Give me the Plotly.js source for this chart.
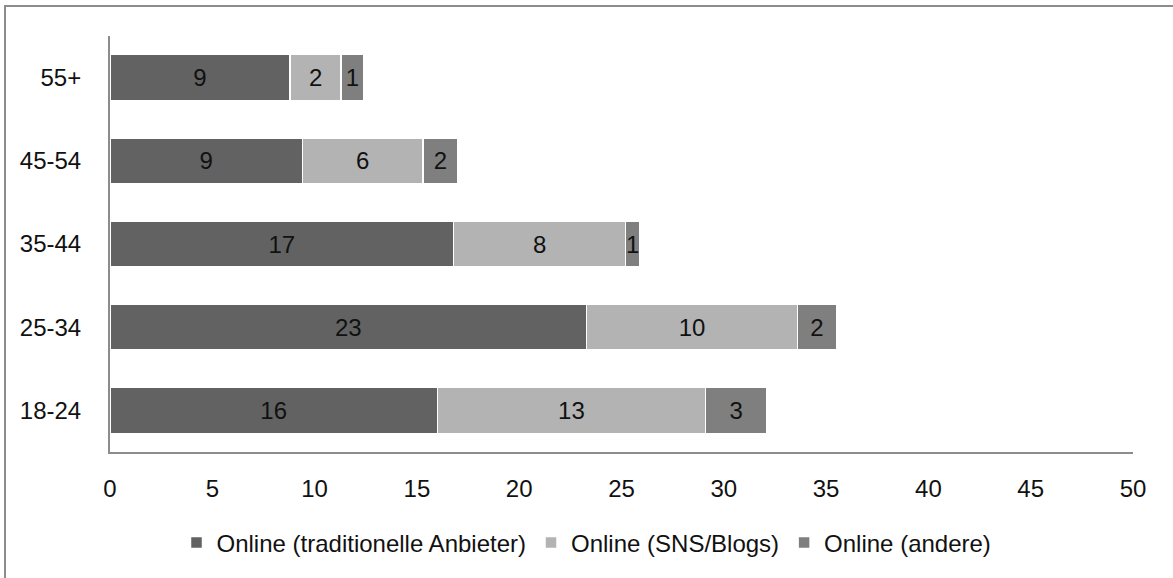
<!DOCTYPE html>
<html>
<head>
<meta charset="utf-8">
<script src="https://cdn.plot.ly/plotly-3.0.1.min.js"></script>
<style>
  html, body { margin: 0; padding: 0; background: #ffffff; overflow: hidden; }
  #frame { position: absolute; left: 4px; top: 5px; width: 1300px; height: 700px;
           border-left: 2px solid #8c8c8c; border-top: 2px solid #8c8c8c; }
  #chart { position: absolute; left: 0; top: 0; width: 1173px; height: 578px; }
</style>
</head>
<body>
<div id="frame"></div>
<div id="chart"></div>
<script>
// Age groups (bottom to top)
const categories = ['18-24', '25-34', '35-44', '45-54', '55+'];

// Series values
const traditionell = [16.0, 23.3, 16.8, 9.4, 8.8];
const snsBlogs     = [13.1, 10.3, 8.4, 5.9, 2.5];
const andere       = [3.0, 1.9, 0.7, 1.7, 1.1];

// Data labels as printed on the bars
const traditionellLabels = ['16', '23', '17', '9', '9'];
const snsBlogsLabels     = ['13', '10', '8', '6', '2'];
const andereLabels       = ['3', '2', '1', '2', '1'];

const seriesNames = ['Online (traditionelle Anbieter)', 'Online (SNS/Blogs)', 'Online (andere)'];
const xTicks = [0, 5, 10, 15, 20, 25, 30, 35, 40, 45, 50];

const FONT = 'Liberation Sans, Arial, sans-serif';
const colors = ['#626262', '#b3b3b3', '#7f7f7f'];

function mk(vals, labels, name, color) {
  return {
    type: 'bar', orientation: 'h',
    y: categories, x: vals, name: name,
    text: labels, textposition: 'inside', insidetextanchor: 'middle',
    constraintext: 'none', textangle: 0,
    textfont: { family: FONT, size: 24, color: '#111111' },
    marker: { color: color, line: { color: '#ffffff', width: 1.5 } },
    hoverinfo: 'x+y+name', cliponaxis: false
  };
}

const data = [
  mk(traditionell, traditionellLabels, seriesNames[0], colors[0]),
  mk(snsBlogs, snsBlogsLabels, seriesNames[1], colors[1]),
  mk(andere, andereLabels, seriesNames[2], colors[2])
];

const layout = {
  width: 1173, height: 578,
  margin: { l: 110, r: 40, t: 36, b: 126 },
  paper_bgcolor: 'rgba(0,0,0,0)', plot_bgcolor: 'rgba(0,0,0,0)',
  barmode: 'stack', bargap: 0.45,
  font: { family: FONT, size: 24, color: '#111111' },
  xaxis: {
    range: [0, 50], tickvals: xTicks, ticktext: xTicks.map(String),
    showgrid: false, zeroline: false,
    showline: true, linecolor: '#8c8c8c', linewidth: 2,
    ticks: '', ticklabelstandoff: 14,
    tickfont: { family: FONT, size: 24, color: '#111111' }
  },
  yaxis: {
    type: 'category', categoryorder: 'array', categoryarray: categories,
    showgrid: false, zeroline: false,
    showline: true, linecolor: '#8c8c8c', linewidth: 2,
    ticks: '', ticklabelstandoff: 22,
    tickfont: { family: FONT, size: 24, color: '#111111' }
  },
  showlegend: true,
  legend: {
    orientation: 'h', x: 0.5, xanchor: 'center',
    xref: 'container', yref: 'container', y: 1 - 543 / 578, yanchor: 'middle',
    font: { family: FONT, size: 24, color: '#111111' },
    traceorder: 'normal', itemwidth: 30, bgcolor: 'rgba(0,0,0,0)'
  }
};

Plotly.newPlot('chart', data, layout, { displayModeBar: false, staticPlot: true });
</script>
</body>
</html>
